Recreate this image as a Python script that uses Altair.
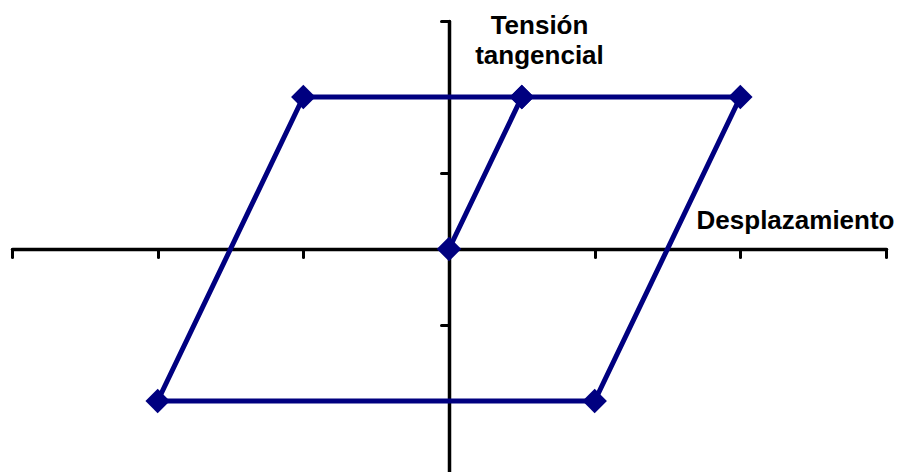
import altair as alt
import pandas as pd

# Hysteresis path: desplazamiento (x) vs tensión tangencial (y)
desplazamiento = [0, 0.5, 2, 1, -2, -1, 0.5]
tension = [0, 2, 2, -2, -2, 2, 2]
orden = list(range(len(desplazamiento)))
x_ticks = [-3, -2, -1, 0, 1, 2, 3]
y_ticks = [-3, -2, -1, 0, 1, 2, 3]

df = pd.DataFrame({"d": desplazamiento, "t": tension, "o": orden})

NAVY = "#000080"
FONT = "Liberation Sans"

x_enc = alt.X(
    "d:Q",
    scale=alt.Scale(domain=[-3, 3], nice=False, zero=False),
    axis=alt.Axis(
        values=x_ticks, labels=False, grid=False, offset=-228,
        domainColor="black", domainWidth=3.5, domainCap="round",
        tickColor="black", tickWidth=3, tickSize=8, tickCap="round",
        title="Desplazamiento", titleFont=FONT, titleFontSize=26,
        titleFontWeight="bold", titleColor="black", titleAlign="right",
        titleBaseline="alphabetic", titleAngle=0, titleX=882, titleY=-21,
    ),
)
y_enc = alt.Y(
    "t:Q",
    scale=alt.Scale(domain=[-3, 3], nice=False, zero=False),
    axis=alt.Axis(
        values=y_ticks, labels=False, grid=False, offset=-437,
        domainColor="black", domainWidth=3.5, domainCap="round",
        tickColor="black", tickWidth=3, tickSize=8, tickCap="round",
        title=["Tensión", "tangencial"], titleFont=FONT, titleFontSize=26,
        titleFontWeight="bold", titleColor="black", titleAlign="center",
        titleBaseline="alphabetic", titleAngle=0, titleX=90, titleY=12,
        titleLineHeight=30,
    ),
)

base = alt.Chart(df).encode(x=x_enc, y=y_enc)
line = base.mark_line(color=NAVY, strokeWidth=5).encode(order="o:Q")
pts = base.mark_point(shape="diamond", filled=True, size=600, color=NAVY, opacity=1)

chart = (
    alt.layer(line, pts)
    .properties(
        width=874, height=456,
        background="white",
        autosize=alt.AutoSizeParams(type="none"),
        padding={"left": 4, "top": 13, "right": 9, "bottom": 0},
    )
    .configure_view(stroke=None, strokeWidth=0)
)

chart.save("out.html", embed_options={"renderer": "svg", "actions": False})
